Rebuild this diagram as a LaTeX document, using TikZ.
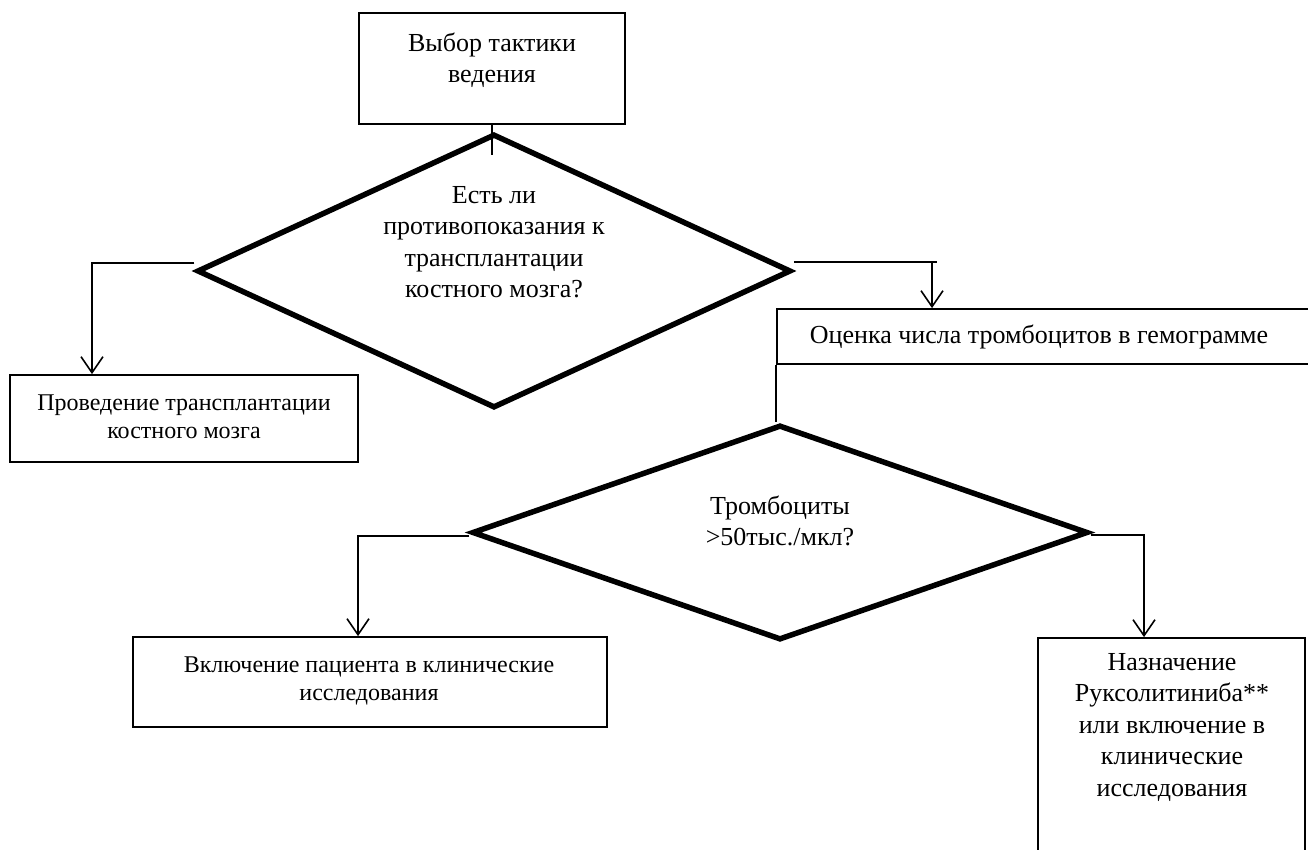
\documentclass[tikz,border=0pt]{standalone}
\usepackage{fontspec}
\setmainfont{Liberation Serif}
\usetikzlibrary{shapes.geometric,arrows.meta}
\begin{document}
\begin{tikzpicture}[x=1pt,y=-1pt,
  box/.style={draw, line width=1.8pt, rectangle, inner sep=0pt},
  dia/.style={draw, diamond, line width=5.5pt, inner sep=0pt, miter limit=20},
  txt/.style={font=\fontsize{26}{31.5}\selectfont, align=center, inner sep=0pt},
  smalltxt/.style={font=\fontsize{24}{28}\selectfont, align=center, inner sep=0pt},
  conn/.style={line width=1.6pt},
  arr/.style={conn, -{Straight Barb[length=16pt,width=22pt,line width=1.6pt]}}
]
\useasboundingbox (0,0) rectangle (1308,850);
\clip (0,0) rectangle (1308,850);
\fill[white] (0,0) rectangle (1308,850);

% top box
\node[box, minimum width=266pt, minimum height=111pt] (top) at (492,68.5) {};
\node[txt] (toptext) at (492,60) {Выбор тактики\\ведения};

% diamond 1
\node[dia, minimum width=594pt, minimum height=274pt] (d1) at (494,271) {};
\node[txt] (d1text) at (494,242) {Есть ли\\противопоказания к\\трансплантации\\костного мозга?};

% box 2
\node[box, minimum width=348pt, minimum height=87pt] (b2) at (184,418.5) {};
\node[smalltxt] (b2text) at (184,417) {Проведение трансплантации\\костного мозга};

% box 3
\node[box, minimum width=553pt, minimum height=55pt] (b3) at (1053.5,336.5) {};
\node[txt] (b3text) at (1039,336.5) {Оценка числа тромбоцитов в гемограмме};

% diamond 2
\node[dia, minimum width=616pt, minimum height=215pt] (d2) at (780,532.5) {};
\node[txt] (d2text) at (780,521) {Тромбоциты\\>50тыс./мкл?};

% box 4
\node[box, minimum width=474pt, minimum height=90pt] (b4) at (370,682) {};
\node[smalltxt] (b4text) at (369,681) {Включение пациента в клинические\\исследования};

% box 5
\node[box, minimum width=267pt, minimum height=242pt] (b5) at (1171.5,759) {};
\node[txt] (b5text) at (1172,727) {Назначение\\Руксолитиниба**\\или включение в\\клинические\\исследования};

% connectors
\coordinate (t1) at (492,155);
\draw[conn] (top.south) -- (t1);

\coordinate (c1) at (92,263);
\draw[arr] (d1.west |- c1) -- (c1) -- (c1 |- b2.north);

\coordinate (c2) at (932,262);
\coordinate (c2e) at (937,262);
\draw[conn] (d1.east |- c2) -- (c2e);
\draw[arr] (c2) -- (c2 |- b3.north);

\draw[conn] (b3.south west) -- (b3.south west |- d2.north);

\coordinate (c3) at (358,536);
\draw[arr] (d2.west |- c3) -- (c3) -- (c3 |- b4.north);

\coordinate (c4) at (1144,535);
\draw[arr] (d2.east |- c4) -- (c4) -- (c4 |- b5.north);
\end{tikzpicture}
\end{document}
